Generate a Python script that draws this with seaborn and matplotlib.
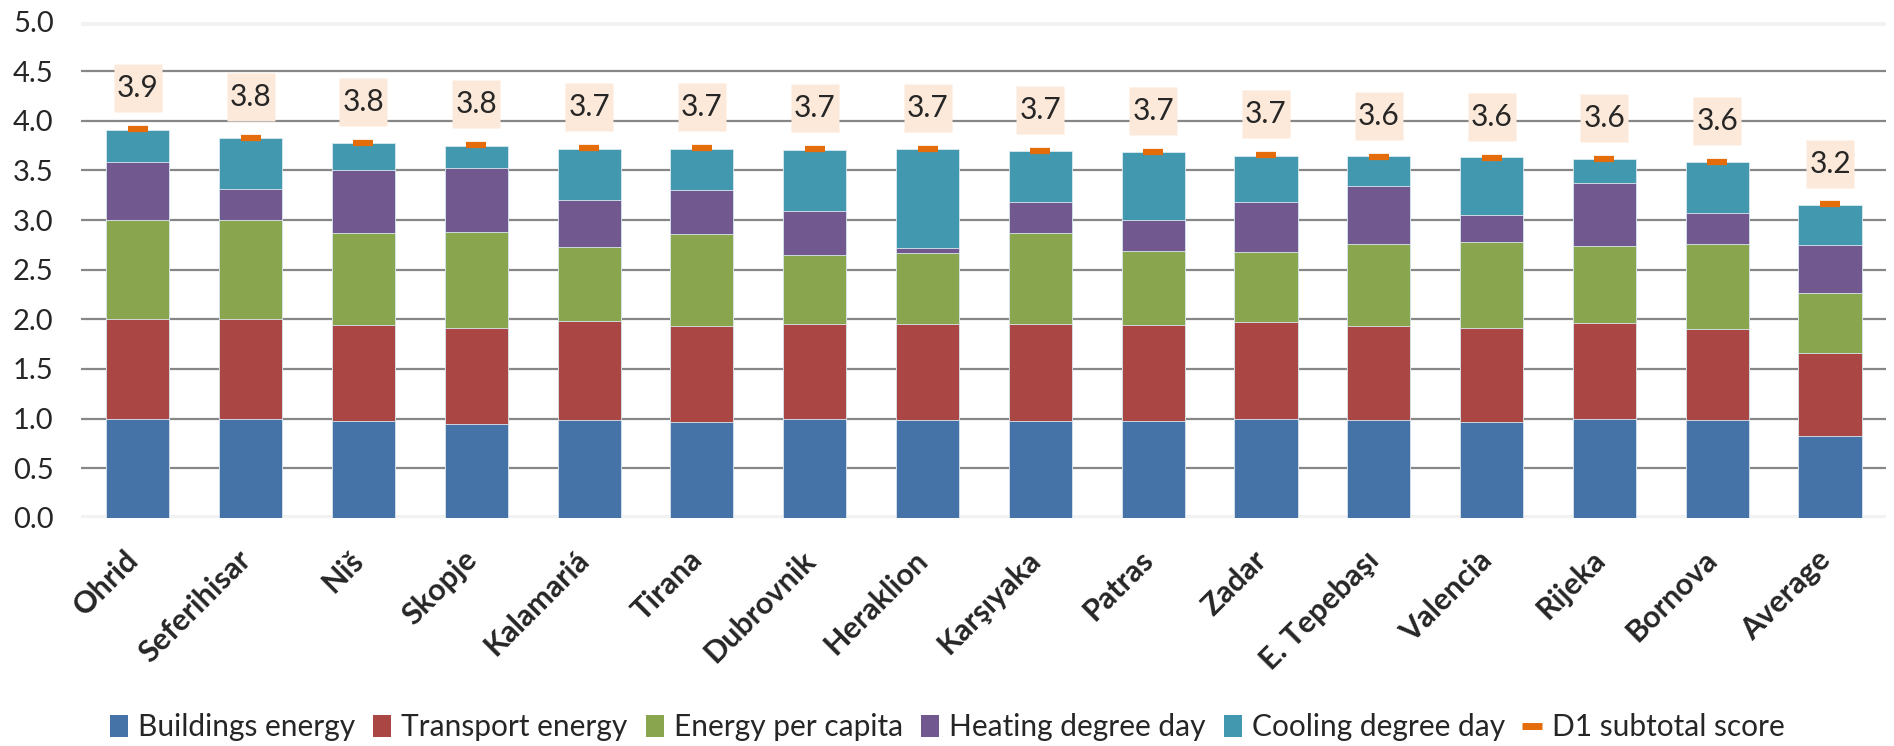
import numpy as np
import pandas as pd
import seaborn as sns
from matplotlib import pyplot as plt
from matplotlib.patches import Patch
from matplotlib.lines import Line2D
import matplotlib.transforms as mtransforms

cities = ['Ohrid', 'Seferihisar', 'Niš', 'Skopje', 'Kalamariá', 'Tirana', 'Dubrovnik',
          'Heraklion', 'Karşıyaka', 'Patras', 'Zadar', 'E. Tepebaşı', 'Valencia',
          'Rijeka', 'Bornova', 'Average']
buildings = [1.00, 1.00, 0.97, 0.94, 0.98, 0.96, 0.99, 0.98, 0.97, 0.97, 0.99, 0.98, 0.96, 0.99, 0.98, 0.82]
transport = [1.00, 1.00, 0.97, 0.97, 1.00, 0.97, 0.96, 0.97, 0.98, 0.97, 0.98, 0.95, 0.95, 0.97, 0.92, 0.84]
energy_pc = [1.00, 1.00, 0.93, 0.97, 0.75, 0.93, 0.70, 0.72, 0.92, 0.75, 0.71, 0.83, 0.87, 0.78, 0.86, 0.60]
heating = [0.59, 0.31, 0.63, 0.64, 0.47, 0.44, 0.44, 0.05, 0.31, 0.31, 0.50, 0.58, 0.27, 0.63, 0.31, 0.49]
cooling = [0.32, 0.52, 0.28, 0.23, 0.52, 0.42, 0.62, 1.00, 0.52, 0.69, 0.47, 0.31, 0.59, 0.25, 0.52, 0.40]
subtotal = [3.92, 3.83, 3.78, 3.76, 3.73, 3.73, 3.72, 3.72, 3.70, 3.69, 3.66, 3.64, 3.63, 3.62, 3.59, 3.16]

series_names = ['Buildings energy', 'Transport energy', 'Energy per capita',
                'Heating degree day', 'Cooling degree day']
colors = ['#4572A7', '#AA4643', '#89A54E', '#71588F', '#4198AF']
marker_color = '#E46C0A'

df = pd.DataFrame({'city': cities, 'Buildings energy': buildings, 'Transport energy': transport,
                   'Energy per capita': energy_pc, 'Heating degree day': heating,
                   'Cooling degree day': cooling})
cum = df[series_names].cumsum(axis=1)

sns.set_theme(style='white')
plt.rcParams['font.family'] = ['Lato', 'DejaVu Sans']

fig = plt.figure(figsize=(18.94, 7.46), dpi=100)
ax = fig.add_axes([0.043, 0.306, 0.953, 0.665])

# stacked bars: draw the tallest cumulative first, then overlay the lower ones
for name, col in reversed(list(zip(series_names, colors))):
    sns.barplot(x=df['city'], y=cum[name], color=col, width=0.56, ax=ax,
                edgecolor='#dbe8f0', linewidth=0.6, saturation=1, zorder=3)

x = np.arange(len(cities))
ax.plot(x, subtotal, ls='none', marker='_', ms=15, mew=4.5, color=marker_color, zorder=5)

# peach label boxes above each bar
label_y = [t + 0.41 for t in subtotal]
ax.plot(x, label_y, ls='none', marker='s', ms=35, mfc='#FDE9D9', mec='none', zorder=6)
for xi, yi, tot in zip(x, label_y, subtotal):
    ax.text(xi, yi, f'{tot:.1f}', ha='center', va='center', fontsize=21.5, zorder=7)

ax.set_ylim(0, 5)
ax.set_xlim(-0.5, len(cities) - 0.5)
ax.set_yticks(np.arange(0, 5.01, 0.5))
ax.set_yticklabels([f'{v:.1f}' for v in np.arange(0, 5.01, 0.5)], fontsize=21)
for v in np.arange(0.5, 4.51, 0.5):
    ax.axhline(v, color='#878787', lw=1.6, zorder=1)
ax.axhline(0, color='#F2F2F2', lw=5, zorder=1)
ax.axhline(5, color='#F2F2F2', lw=5, zorder=1)
sns.despine(ax=ax, left=True, bottom=True)
ax.tick_params(axis='both', length=0)
ax.tick_params(axis='y', pad=20)
ax.set_xlabel('')
ax.set_ylabel('')

ax.set_xticks(x)
ax.set_xticklabels(cities, rotation=45, ha='right', va='top', rotation_mode='anchor',
                   fontsize=22, fontweight='bold')
ax.tick_params(axis='x', pad=20)
offset = mtransforms.ScaledTranslation(-0.14, 0, fig.dpi_scale_trans)
for lab in ax.get_xticklabels():
    lab.set_transform(lab.get_transform() + offset)

handles = [Patch(facecolor=c, edgecolor='none', label=n) for n, c in zip(series_names, colors)]
handles.append(Line2D([], [], ls='none', marker='_', ms=14, mew=5, color=marker_color,
                      label='D1 subtotal score'))
fig.legend(handles=handles, loc='center', bbox_to_anchor=(0.5, 0.025), ncol=6, frameon=False,
           fontsize=21.5, handlelength=0.6, handleheight=0.75, handletextpad=0.35,
           columnspacing=0.6)

fig.savefig('out.png', dpi=100)
